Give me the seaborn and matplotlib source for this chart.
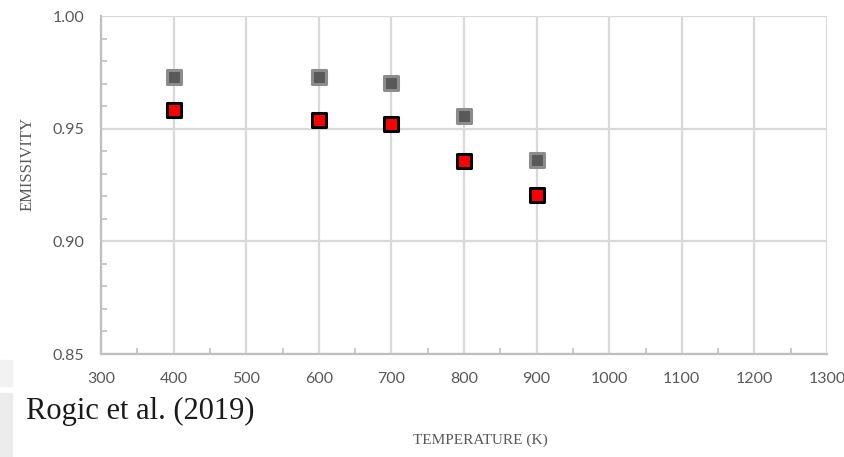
import matplotlib
matplotlib.use("Agg")
import matplotlib.pyplot as plt
import matplotlib.patches as mpatches
from matplotlib.ticker import MultipleLocator
import seaborn as sns
import pandas as pd

temperature = [400, 600, 700, 800, 900]
emissivity_gray = [0.9729, 0.9729, 0.9703, 0.9556, 0.9361]
emissivity_red = [0.9583, 0.9538, 0.9521, 0.9357, 0.9206]
x_ticks = [300, 400, 500, 600, 700, 800, 900, 1000, 1100, 1200, 1300]
y_ticks = [0.85, 0.90, 0.95, 1.00]

df = pd.DataFrame({
    "T": temperature * 2,
    "E": emissivity_gray + emissivity_red,
    "series": ["gray"] * len(temperature) + ["red"] * len(temperature),
})

sns.set_style("white")
fig = plt.figure(figsize=(8.44, 4.57), dpi=100)
ax = fig.add_axes([101 / 844, 1 - 354 / 457, (827 - 101) / 844, (354 - 16) / 457])

# light gray panels at the left edge
fig.patches.append(mpatches.Rectangle((0, 1 - 386 / 457), 12 / 844, 26 / 457,
                                      transform=fig.transFigure, color="#f2f2f2", zorder=0))
fig.patches.append(mpatches.Rectangle((0, 0), 12 / 844, 64 / 457,
                                      transform=fig.transFigure, color="#ececec", zorder=0))

sns.scatterplot(data=df[df.series == "gray"], x="T", y="E", ax=ax, marker="s", s=95,
                color="#595959", edgecolor="#8c8c8c", linewidth=2.2, zorder=3, legend=False)
sns.scatterplot(data=df[df.series == "red"], x="T", y="E", ax=ax, marker="s", s=95,
                color="#ff0000", edgecolor="#000000", linewidth=2.2, zorder=4, legend=False)

ax.set_xlim(300, 1300)
ax.set_ylim(0.85, 1.00)
ax.set_xticks(x_ticks)
ax.set_yticks(y_ticks)
ax.set_yticklabels([f"{v:.2f}" for v in y_ticks])
ax.xaxis.set_minor_locator(MultipleLocator(50))
ax.yaxis.set_minor_locator(MultipleLocator(0.01))
ax.grid(True, which="major", color="#d9d9d9", linewidth=1.6, zorder=0)
ax.set_axisbelow(True)
for side in ["top", "right"]:
    ax.spines[side].set_visible(False)
for side in ["left", "bottom"]:
    ax.spines[side].set_color("#bfbfbf")
    ax.spines[side].set_linewidth(1.6)
ax.tick_params(axis="both", which="major", length=0, labelsize=11.5, labelcolor="#595959")
ax.tick_params(axis="x", which="major", pad=13)
ax.tick_params(axis="y", which="major", pad=12)
ax.tick_params(axis="both", which="minor", direction="in", length=4, width=1.2,
               color="#bfbfbf", bottom=True, left=True)
for lbl in ax.get_xticklabels() + ax.get_yticklabels():
    lbl.set_family(["Lato", "DejaVu Sans"])

ax.set_xlabel("")
ax.set_ylabel("")
fig.text(28 / 844, 1 - 164 / 457, "EMISSIVITY", rotation=90, ha="center", va="center",
         fontsize=12, color="#595959", family=["Liberation Serif", "DejaVu Serif"])
fig.text(480 / 844, 1 - 440 / 457, "TEMPERATURE (K)", ha="center", va="center",
         fontsize=11, color="#595959", family=["Liberation Serif", "DejaVu Serif"])
fig.text(26 / 844, 1 - 411 / 457, "Rogic et al. (2019)", ha="left", va="center",
         fontsize=22, color="#1a1a1a", family=["Liberation Serif", "DejaVu Serif"])

fig.savefig("out.png", dpi=100)
